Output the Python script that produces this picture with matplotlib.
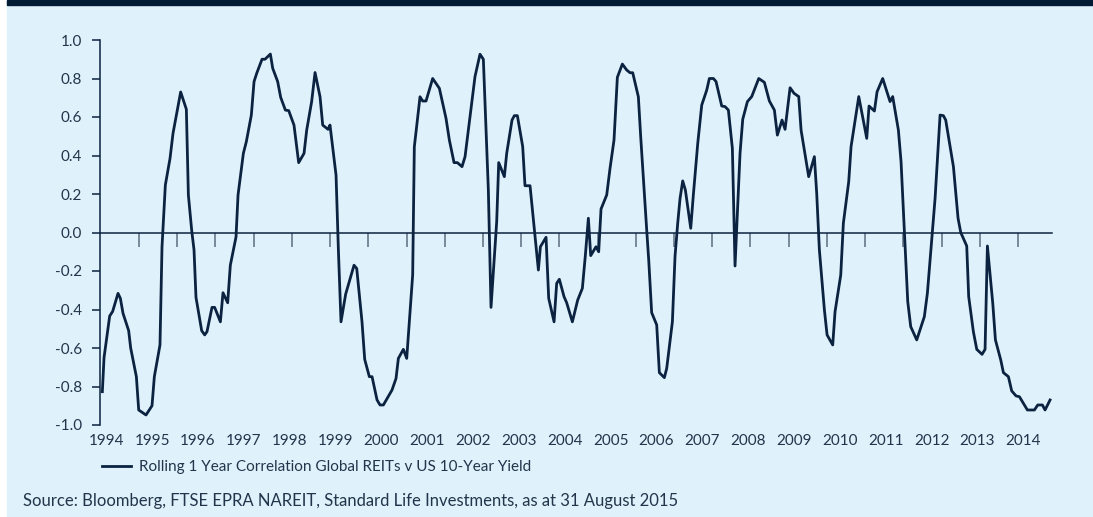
import matplotlib
matplotlib.use("Agg")
import matplotlib.pyplot as plt
import numpy as np
from matplotlib.patches import Rectangle

# rolling 1 year correlation (decimal years)
years = [
    1993.916, 1993.953, 1994.076, 1994.141, 1994.258, 1994.309, 1994.367, 1994.490, 1994.534, 1994.658,
    1994.709, 1994.868, 1994.999, 1995.050, 1995.173, 1995.217, 1995.290, 1995.392, 1995.457, 1995.624,
    1995.748, 1995.792, 1995.864, 1995.915, 1995.958, 1996.082, 1996.148, 1996.198, 1996.307, 1996.365,
    1996.490, 1996.547, 1996.649, 1996.707, 1996.831, 1996.875, 1996.991, 1997.056, 1997.165, 1997.224,
    1997.282, 1997.398, 1997.463, 1997.580, 1997.631, 1997.739, 1997.805, 1997.907, 1997.980, 1998.095,
    1998.197, 1998.314, 1998.372, 1998.480, 1998.554, 1998.663, 1998.721, 1998.837, 1998.880, 1999.012,
    1999.063, 1999.120, 1999.222, 1999.404, 1999.463, 1999.578, 1999.637, 1999.738, 1999.797, 1999.906,
    1999.971, 2000.044, 2000.233, 2000.320, 2000.371, 2000.480, 2000.553,
    2000.683, 2000.719, 2000.843, 2000.901, 2000.974, 2001.119, 2001.265, 2001.410, 2001.483, 2001.585,
    2001.657, 2001.759, 2001.825, 2002.042, 2002.151, 2002.224, 2002.333, 2002.391, 2002.515, 2002.559,
    2002.682, 2002.733, 2002.849, 2002.900, 2002.966, 2003.082, 2003.132, 2003.242, 2003.315, 2003.424,
    2003.468, 2003.591, 2003.649, 2003.766, 2003.823, 2003.881, 2003.983, 2004.041, 2004.165, 2004.281,
    2004.383, 2004.449, 2004.514, 2004.565, 2004.681, 2004.739, 2004.790, 2004.914, 2004.986, 2005.073,
    2005.146, 2005.255, 2005.350, 2005.422, 2005.481, 2005.604, 2005.655, 2005.720, 2005.786, 2005.830,
    2005.894, 2006.004, 2006.062, 2006.171, 2006.222, 2006.346, 2006.404, 2006.462, 2006.513, 2006.571,
    2006.629, 2006.746, 2006.803, 2006.899, 2006.986, 2007.095, 2007.152, 2007.240, 2007.298, 2007.422,
    2007.494, 2007.567, 2007.654, 2007.712,
    2007.821, 2007.880, 2007.982, 2008.076, 2008.229, 2008.352, 2008.461, 2008.570, 2008.635, 2008.737,
    2008.803, 2008.912, 2008.999, 2009.101, 2009.152, 2009.318, 2009.442, 2009.493, 2009.551, 2009.661,
    2009.719, 2009.842, 2009.893, 2010.017, 2010.074, 2010.191, 2010.242, 2010.410, 2010.584, 2010.634,
    2010.751, 2010.809, 2010.932, 2011.092, 2011.150, 2011.274, 2011.332, 2011.383, 2011.427, 2011.478,
    2011.543, 2011.674, 2011.840, 2011.906, 2012.001, 2012.074, 2012.183, 2012.255, 2012.306, 2012.415,
    2012.474, 2012.575, 2012.634, 2012.764, 2012.807, 2012.909, 2012.983, 2013.098, 2013.164, 2013.215,
    2013.332, 2013.390, 2013.506, 2013.564, 2013.673, 2013.745, 2013.840, 2013.913, 2014.087, 2014.240,
    2014.313, 2014.414, 2014.472, 2014.581,
]
corr = [
    -0.827, -0.65, -0.434, -0.41, -0.316, -0.342, -0.42, -0.51, -0.60, -0.749,
    -0.922, -0.948, -0.90, -0.749, -0.584, -0.074, 0.247, 0.385, 0.515, 0.73,
    0.64, 0.195, 0.012, -0.09, -0.337, -0.51, -0.532, -0.515, -0.389, -0.389,
    -0.464, -0.313, -0.365, -0.17, -0.023, 0.195, 0.411, 0.472, 0.61, 0.784,
    0.827, 0.9, 0.9, 0.927, 0.853, 0.784, 0.702, 0.636, 0.633, 0.558,
    0.363, 0.411, 0.532, 0.68, 0.831, 0.705, 0.558, 0.536, 0.558, 0.298,
    -0.09, -0.464, -0.32, -0.17, -0.187, -0.464, -0.659, -0.749, -0.749, -0.87,
    -0.896, -0.896, -0.818, -0.758, -0.654, -0.607, -0.654,
    -0.22, 0.445, 0.705, 0.683, 0.683, 0.80, 0.749, 0.593, 0.48, 0.363,
    0.363, 0.342, 0.394, 0.81, 0.926, 0.90, 0.221, -0.389, 0.056, 0.363,
    0.29, 0.411, 0.584, 0.607, 0.607, 0.446, 0.243, 0.243, 0.065, -0.195,
    -0.074, -0.025, -0.342, -0.464, -0.264, -0.243, -0.333, -0.365, -0.464, -0.351,
    -0.29, -0.117, 0.074, -0.12, -0.074, -0.1, 0.122, 0.195, 0.333, 0.48,
    0.806, 0.875, 0.844, 0.83, 0.83, 0.705, 0.498, 0.255, 0.013, -0.143,
    -0.416, -0.48, -0.728, -0.754, -0.706, -0.464, -0.122, 0.048, 0.177, 0.268,
    0.221, 0.022, 0.195, 0.463, 0.662, 0.74, 0.80, 0.80, 0.784, 0.657,
    0.654, 0.636, 0.437, -0.174,
    0.411, 0.588, 0.68, 0.706, 0.80, 0.78, 0.683, 0.636, 0.506, 0.584,
    0.536, 0.752, 0.723, 0.706, 0.532, 0.29, 0.394, 0.203, -0.09, -0.403,
    -0.532, -0.584, -0.411, -0.221, 0.048, 0.264, 0.446, 0.706, 0.489, 0.657,
    0.631, 0.731, 0.80, 0.68, 0.706, 0.532, 0.368, 0.117, -0.108, -0.359,
    -0.489, -0.558, -0.437, -0.316, -0.039, 0.177, 0.61, 0.607, 0.584, 0.429,
    0.342, 0.074, 0.0, -0.07, -0.333, -0.515, -0.607, -0.633, -0.607, -0.07,
    -0.368, -0.558, -0.662, -0.728, -0.749, -0.823, -0.849, -0.853, -0.922, -0.922,
    -0.896, -0.896, -0.922, -0.87,
]
year_labels = list(range(1994, 2015))
y_ticks = [-1.0, -0.8, -0.6, -0.4, -0.2, 0.0, 0.2, 0.4, 0.6, 0.8, 1.0]
series_name = "Rolling 1 Year Correlation Global REITs v US 10-Year Yield"
source = "Source: Bloomberg, FTSE EPRA NAREIT, Standard Life Investments, as at 31 August 2015"

BG = "#dff1fb"
NAVY = "#0b2340"
TEXT = "#22354a"

plt.rcParams["font.family"] = ["Lato", "DejaVu Sans"]
plt.rcParams["axes.unicode_minus"] = False

W, H = 1093, 517
fig = plt.figure(figsize=(W / 100, H / 100), dpi=100)
fig.patch.set_facecolor("white")
fig.patches.append(Rectangle((7 / W, 0), 1, 1, transform=fig.transFigure, color=BG, zorder=-2))
fig.patches.append(Rectangle((7 / W, 1 - 5 / H), 1, 5 / H, transform=fig.transFigure,
                             color="#011b35", zorder=-1))

ax = fig.add_axes([100 / W, 92 / H, 951.7 / W, 385 / H])
ax.set_zorder(2)
ax.set_facecolor("none")
line, = ax.plot(years, corr, color=NAVY, lw=2.0)

ax.set_xlim(1993.865, 2014.617)
ax.set_ylim(-1, 1)

for side in ["top", "right"]:
    ax.spines[side].set_visible(False)
ax.spines["bottom"].set_position(("data", 0))
ax.spines["bottom"].set_color(NAVY)
ax.spines["bottom"].set_linewidth(1.1)
ax.spines["left"].set_color(NAVY)
ax.spines["left"].set_linewidth(1.1)

# category ticks every 10 months along the zero line
ax.set_xticks(1994.715 + np.arange(24) * 10 / 12)
ax.set_xticklabels([])
ax.tick_params(axis="x", direction="out", length=10, width=1.1, color="#5c6d80")

ax.set_yticks(y_ticks)
ax.set_yticklabels([f"{v:.1f}" for v in y_ticks])
ax.tick_params(axis="y", direction="out", length=5.8, width=1.1, color=NAVY,
               pad=7, labelsize=11, labelcolor=TEXT)

for yr in year_labels:
    ax.text(yr, -20 / 385, str(yr), transform=ax.get_xaxis_transform(),
            ha="center", va="baseline", fontsize=11, color=TEXT)

fig.legend([line], [series_name], loc="center left",
           bbox_to_anchor=(101.7 / W, 1 - 467.5 / H), frameon=False,
           handlelength=1.9, handletextpad=0.55, borderpad=0, borderaxespad=0,
           fontsize=11, labelcolor=TEXT)

fig.text(23 / W, 1 - 505.7 / H, source, va="baseline", fontsize=12, color=TEXT)

fig.savefig("out.png", dpi=100, facecolor=fig.get_facecolor())
